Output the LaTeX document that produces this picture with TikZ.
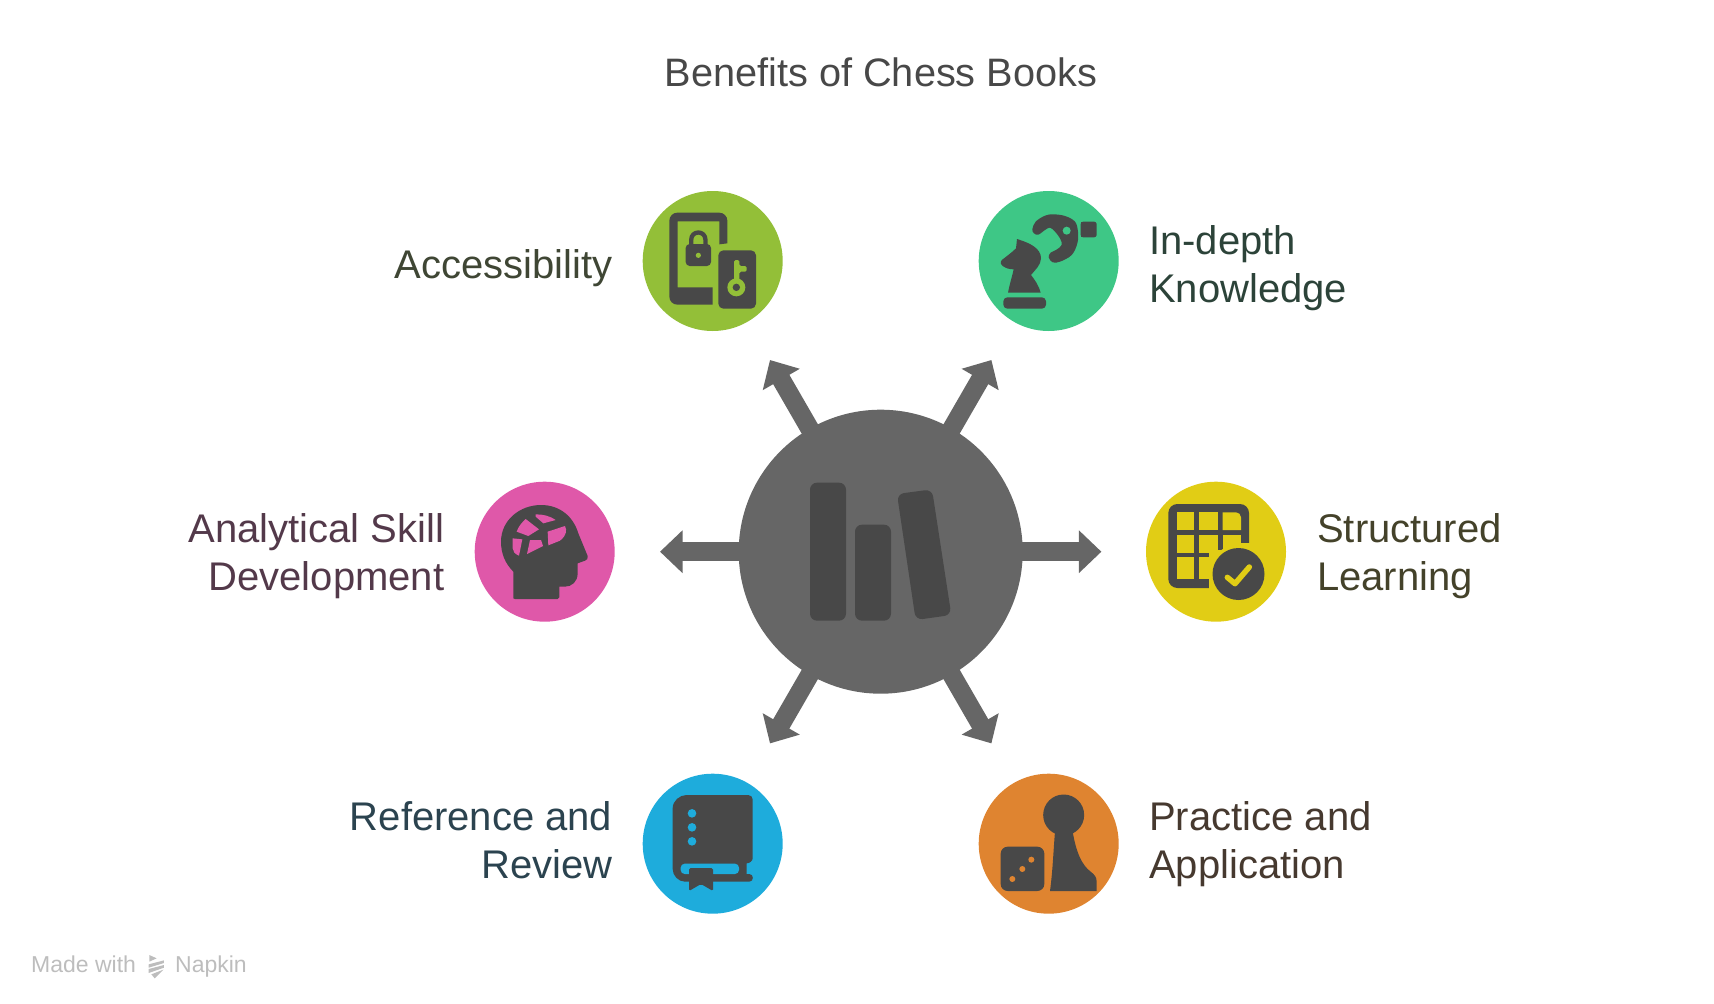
\documentclass[tikz,border=0pt]{standalone}
\usepackage{fontspec}
\setmainfont{Liberation Sans}
\usetikzlibrary{arrows.meta}
\definecolor{hubgrey}{HTML}{666666}
\definecolor{ink}{HTML}{484848}
\definecolor{cgreen}{HTML}{93BF38}
\definecolor{cteal}{HTML}{3EC786}
\definecolor{cpink}{HTML}{DF58A9}
\definecolor{cyellow}{HTML}{E1CD15}
\definecolor{cblue}{HTML}{1EACDC}
\definecolor{corange}{HTML}{DF8430}
\definecolor{tgreen}{HTML}{3F4634}
\definecolor{tteal}{HTML}{2C4339}
\definecolor{tpink}{HTML}{53394A}
\definecolor{tyellow}{HTML}{44422A}
\definecolor{tblue}{HTML}{2B434F}
\definecolor{torange}{HTML}{46392F}
\definecolor{ttitle}{HTML}{484848}
\definecolor{wm}{HTML}{BDBDBD}
\tikzset{
  zoomat/.style 2 args={shift={(#1,#2)},x=0.33333pt,y=-0.33333pt},
  hubdisc/.style={circle,fill=hubgrey,minimum size=284pt,inner sep=0pt},
  disc/.style={circle,minimum size=140pt,inner sep=0pt},
  spoke/.style={draw=hubgrey,line width=18.7pt,shorten <=-8pt,-{Triangle[width=41.4pt,length=22.5pt,fill=hubgrey]}},
  lab/.style={inner sep=0pt,font=\fontsize{40}{48}\selectfont},
  rlab/.style={lab,anchor=east,align=right},
  llab/.style={lab,anchor=west,align=left},
}
\begin{document}
\begin{tikzpicture}[x=1pt,y=-1pt]
\useasboundingbox (0,0) rectangle (1714,1004);
\node[inner sep=0pt,text=ttitle,font=\fontsize{39.7}{48}\selectfont] (title) at (881,72) {Benefits of Chess Books};

% free ends of the spokes
\coordinate (endA) at (770,360);
\coordinate (endB) at (991.4,360);
\coordinate (endC) at (660,551.7);
\coordinate (endD) at (1101.4,551.7);
\coordinate (endE) at (770,743.4);
\coordinate (endF) at (991.4,743.4);

\node[hubdisc] (hub) at (880.7,551.7) {};
\foreach \e in {endA,endB,endC,endD,endE,endF} \draw[spoke] (hub) -- (\e);

% discs
\node[disc,fill=cgreen] (access) at (712.7,261) {};
\node[disc,fill=cteal] (depth) at (1048.7,261) {};
\node[disc,fill=cpink] (skill) at (544.7,551.7) {};
\node[disc,fill=cyellow] (struct) at (1216,551.7) {};
\node[disc,fill=cblue] (refer) at (712.7,843.7) {};
\node[disc,fill=corange] (prac) at (1048.7,843.7) {};

% labels
\node[rlab,text=tgreen] (laccess) at (612.5,268) {Accessibility};
\node[llab,text=tteal] (ldepth) at (1149,268) {In-depth\\Knowledge};
\node[rlab,text=tpink] (lskill) at (444.5,556) {Analytical Skill\\Development};
\node[llab,text=tyellow] (lstruct) at (1317,556) {Structured\\Learning};
\node[rlab,text=tblue] (lrefer) at (612.5,840) {Reference and\\Review};
\node[llab,text=torange] (lprac) at (1149,844) {Practice and\\Application};

% hub icon: books
\begin{scope}[zoomat={650}{350},fill=ink]
\fill[rounded corners=7pt] (480,398) rectangle (588,812);
\fill[rounded corners=7pt] (615,524) rectangle (723,812);
\fill[rounded corners=7pt] (741,432) -- (846,418) -- (904,795) -- (797,810) -- cycle;
\end{scope}

% phone, lock, key
\begin{scope}[zoomat={630}{180}]
\fill[ink] (292,190) [rounded corners=8pt] -- (292,98) -- (118,98) -- (118,374) [sharp corners] -- (248,374) -- (248,322) -- (143,322) -- (143,124) -- (268,124) -- (268,193) -- cycle;
\fill[ink,rounded corners=4pt] (167,192) rectangle (243,258);
\draw[ink,line width=4.3pt] (183.5,200) -- (183.5,180) .. controls (183.5,150) and (226.5,150) .. (226.5,180) -- (226.5,200);
\fill[cgreen] (205,226) circle[radius=2.6pt];
\fill[ink,rounded corners=5pt] (265,211) rectangle (378,386);
\fill[cgreen] (319,322) circle[radius=9pt];
\fill[cgreen,rounded corners=1.5pt] (312,240) -- (328,240) -- (328,258) -- (350,258) -- (350,275) -- (328,275) -- (328,305) -- (312,305) -- cycle;
\fill[ink] (319,322) circle[radius=3.7pt];
\end{scope}

% knight and hand
\begin{scope}[zoomat={970}{180}]
\fill[ink,rounded corners=4pt] (100,352) rectangle (228,386);
\fill[ink] (114,338) .. controls (118,315) and (125,295) .. (131,268) .. controls (118,268) and (108,265) .. (98,258) .. controls (88,250) and (92,240) .. (102,235) .. controls (115,225) and (128,215) .. (138,205) -- (141,177) -- (150,180) .. controls (180,190) and (213,205) .. (213,235) .. controls (213,255) and (195,270) .. (183,285) .. controls (195,300) and (207,318) .. (212,338) -- cycle;
\fill[ink] plot[smooth cycle,tension=0.6] coordinates {(187,148) (197,125) (225,107) (250,103) (285,108) (315,125) (324,155) (322,190) (305,225) (270,245) (248,247) (236,232) (242,218) (258,210) (275,195) (270,175) (255,155) (240,143) (225,150) (205,164) (192,160)};
\fill[cteal] (290,152) circle[radius=4pt];
\fill[ink,rounded corners=2.5pt] (332,125) rectangle (380,172);
\fill[ink] (332,125) rectangle (345,172);
\end{scope}

% head
\begin{scope}[zoomat={465}{470}]
\fill[ink] (145,385) -- (145,305) .. controls (120,280) and (108,250) .. (108,215) .. controls (108,150) and (165,105) .. (228,105) .. controls (285,105) and (325,140) .. (340,190) -- (368,258) .. controls (370,266) and (366,270) .. (360,272) -- (338,280) -- (338,310) .. controls (338,335) and (320,350) .. (300,350) -- (283,350) -- (283,382) -- (278,387) -- (150,387) -- cycle;
\begin{scope}[fill=cpink]
\fill (212,140) -- (235,160) -- (272,150) .. controls (255,138) and (235,133) .. (212,133) -- cycle;
\fill (155,185) .. controls (160,170) and (170,158) .. (182,147) -- (222,178) -- (190,198) -- cycle;
\fill (248,185) -- (300,168) .. controls (306,180) and (306,195) .. (285,212) -- (250,226) -- cycle;
\fill (195,210) -- (228,210) -- (234,228) -- (186,252) -- cycle;
\fill (143,205) -- (172,208) -- (162,257) .. controls (150,252) and (143,245) .. (143,235) -- cycle;
\end{scope}
\end{scope}

% table with check
\begin{scope}[zoomat={1135}{470}]
\fill[ink,rounded corners=9pt] (100,102) rectangle (342,354);
\begin{scope}[fill=cyellow]
\fill (125,127) rectangle (178,180);
\fill (193,127) rectangle (248,180);
\fill (263,180) -- (263,127) [rounded corners=5pt] -- (318,127) [sharp corners] -- (318,180) -- cycle;
\fill (125,195) rectangle (178,248);
\fill (193,195) rectangle (248,248);
\fill (125,262) rectangle (178,328);
\fill (193,262) rectangle (225,328);
\fill (263,195) rectangle (318,240);
\fill (263,218) rectangle (346,358);
\fill (222,240) rectangle (263,358);
\fill (310.5,312) circle[radius=29.5pt];
\end{scope}
\fill[ink] (310.5,312) circle[radius=26pt];
\draw[cyellow,line width=5.5pt,line cap=round,line join=round] (277,322) -- (300,341) -- (343,291);
\end{scope}

% book
\begin{scope}[zoomat={630}{765}]
\fill[ink] (128,130) .. controls (128,108) and (148,90) .. (170,90) -- (355,90) .. controls (362,90) and (368,96) .. (368,103) -- (368,280) .. controls (368,288) and (358,295) .. (350,295) -- (350,327) -- (358,327) .. controls (372,327) and (372,350) .. (358,350) -- (165,350) .. controls (145,350) and (128,332) .. (128,312) -- cycle;
\fill[cblue,rounded corners=4pt] (152,296) -- (327,296) -- (327,327) -- (152,327) -- cycle;
\fill[ink,rounded corners=1.5pt] (177,309) -- (249,309) -- (249,378) -- (213,357) -- (177,378) -- cycle;
\fill[cblue] (186,145) circle[radius=4.3pt] (186,187) circle[radius=4.3pt] (186,229) circle[radius=4.3pt];
\end{scope}

% pawn and die
\begin{scope}[zoomat={970}{765}]
\fill[ink] (281,150) circle[radius=20.5pt];
\fill[ink] (255,200) .. controls (250,260) and (248,320) .. (240,378) -- (380,378) -- (380,350) .. controls (380,335) and (372,328) .. (362,320) .. controls (335,300) and (318,260) .. (308,200) -- cycle;
\fill[ink,rounded corners=7pt] (92,245) rectangle (223,378);
\fill[corange] (184,284) circle[radius=3pt] (157,312) circle[radius=3pt] (127,342) circle[radius=3pt];
\end{scope}

% watermark
\node[inner sep=0pt,anchor=base west,text=wm,font=\fontsize{23}{28}\selectfont] (made) at (31,972) {Made with};
\node[inner sep=0pt,anchor=base west,text=wm,font=\fontsize{23}{28}\selectfont] (napkin) at (175,972) {Napkin};
\begin{scope}[zoomat={20}{945}]
\fill[wm] (388,30) -- (410,40) -- (388,50) -- cycle;
\fill[wm] (386,58) -- (432,46) -- (432,54) -- (386,68) -- cycle;
\fill[wm] (386,72) -- (432,60) -- (432,68) -- (386,84) -- cycle;
\fill[wm] (394,88) -- (430,74) -- (404,100) -- cycle;
\end{scope}
\end{tikzpicture}
\end{document}
